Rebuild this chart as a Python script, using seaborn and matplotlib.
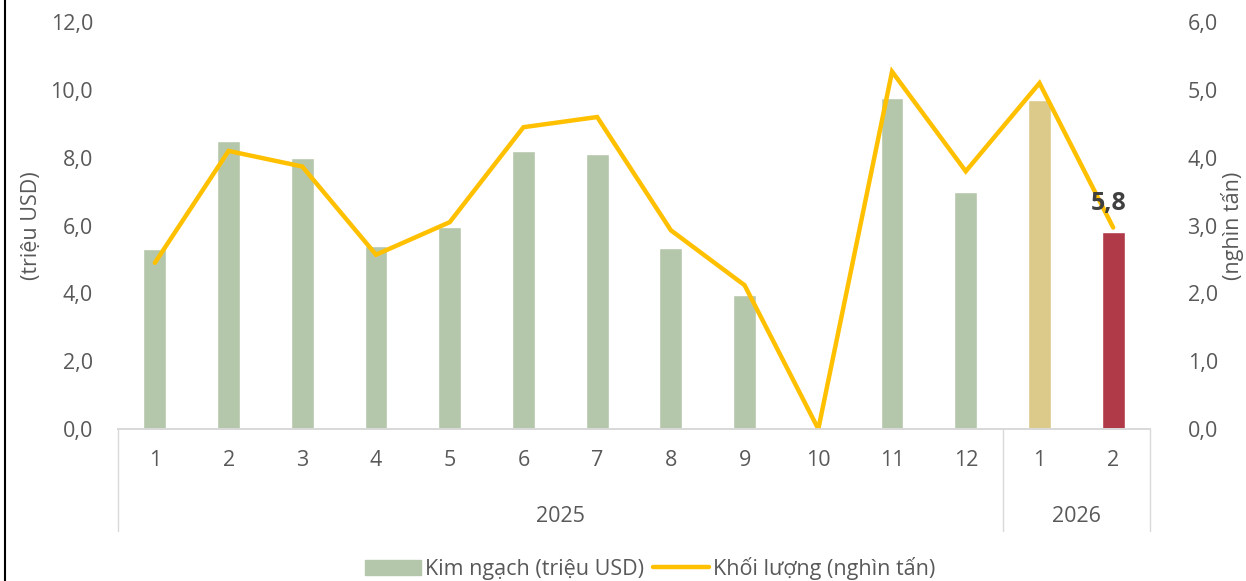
import matplotlib
matplotlib.use("Agg")
import matplotlib.pyplot as plt
import matplotlib.transforms as mtransforms
from matplotlib.lines import Line2D
from matplotlib.patches import Patch
from matplotlib.ticker import FuncFormatter, MultipleLocator
import seaborn as sns

# dữ liệu
keys = ["2025-1", "2025-2", "2025-3", "2025-4", "2025-5", "2025-6", "2025-7",
        "2025-8", "2025-9", "2025-10", "2025-11", "2025-12", "2026-1", "2026-2"]
months = ["1", "2", "3", "4", "5", "6", "7", "8", "9", "10", "11", "12", "1", "2"]
years = ["2025", "2026"]
kim_ngach = [5.3, 8.5, 8.0, 5.4, 5.95, 8.2, 8.1, 5.35, 3.95, 0.0, 9.75, 7.0, 9.7, 5.8]
khoi_luong = [2.45, 4.1, 3.87, 2.57, 3.05, 4.45, 4.6, 2.93, 2.12, 0.0, 5.27, 3.8, 5.1, 2.97]

green = "#B5C7AA"
colors = [green] * 12 + ["#DBCA8A", "#B03A48"]
grey = "#595959"
fs = 15.5

sns.set_theme(style="white")
plt.rcParams["font.family"] = ["Open Sans", "DejaVu Sans"]

fig = plt.figure(figsize=(12.46, 5.81), dpi=100)
ax = fig.add_axes([0.0947, 0.2616, 0.8283, 0.7004])

sns.barplot(x=keys, y=kim_ngach, hue=keys, palette=colors, width=0.31,
            legend=False, ax=ax, saturation=1)
ax2 = ax.twinx()
sns.lineplot(x=list(range(len(keys))), y=khoi_luong, ax=ax2, color="#FFC000",
             linewidth=3.2, solid_joinstyle="miter")

ax.set_xlim(-0.5, len(keys) - 0.5)
ax.set_ylim(0, 12)
ax2.set_ylim(0, 6)
ax.yaxis.set_major_locator(MultipleLocator(2))
ax2.yaxis.set_major_locator(MultipleLocator(1))
fmt = FuncFormatter(lambda v, p: f"{v:.1f}".replace(".", ","))
ax.yaxis.set_major_formatter(fmt)
ax2.yaxis.set_major_formatter(fmt)

for a in (ax, ax2):
    for s in ("top", "left", "right"):
        a.spines[s].set_visible(False)
    a.spines["bottom"].set_color("#D9D9D9")
    a.tick_params(length=0, labelsize=fs, labelcolor=grey)

ax.tick_params(axis="y", pad=18)
ax2.tick_params(axis="y", pad=27)
ax.set_xticks(range(len(keys)))
ax.set_xticklabels(months)
ax.tick_params(axis="x", pad=15)

ax.set_ylabel("(triệu USD)", fontsize=fs, color=grey, labelpad=6)
ax2.set_ylabel("(nghìn tấn)", fontsize=fs, color=grey, labelpad=2)

# nhãn năm và vạch phân cách
trans = mtransforms.blended_transform_factory(ax.transData, ax.transAxes)
for xs in (-0.5, 11.5, 13.5):
    ax.plot([xs, xs], [0, -0.25], transform=trans, color="#D9D9D9",
            linewidth=1, clip_on=False)
ax.text(5.5, -0.215, years[0], transform=trans, ha="center", va="center",
        fontsize=fs, color=grey)
ax.text(12.5, -0.215, years[1], transform=trans, ha="center", va="center",
        fontsize=fs, color=grey)

# nhãn giá trị tháng cuối (vẽ trên đường)
ax2.annotate(f"{kim_ngach[-1]:.1f}".replace(".", ","), (13, kim_ngach[-1]),
             xycoords=ax.transData, xytext=(-3, 12), textcoords="offset points",
             ha="center", va="bottom", fontsize=18, fontweight="bold",
             color="#404040", zorder=10)

handles = [Patch(color=green), Line2D([0], [0], color="#FFC000", linewidth=3.2)]
fig.legend(handles, ["Kim ngạch (triệu USD)", "Khối lượng (nghìn tấn)"],
           loc="center", bbox_to_anchor=(0.522, 0.022), ncol=2, frameon=False,
           fontsize=fs, labelcolor=grey, handlelength=2.6, handletextpad=0.2,
           columnspacing=0.4)

fig.add_artist(Line2D([0.004, 0.004], [0, 1], color="black", linewidth=1.5,
                      transform=fig.transFigure))

fig.savefig("out.png", dpi=100)
